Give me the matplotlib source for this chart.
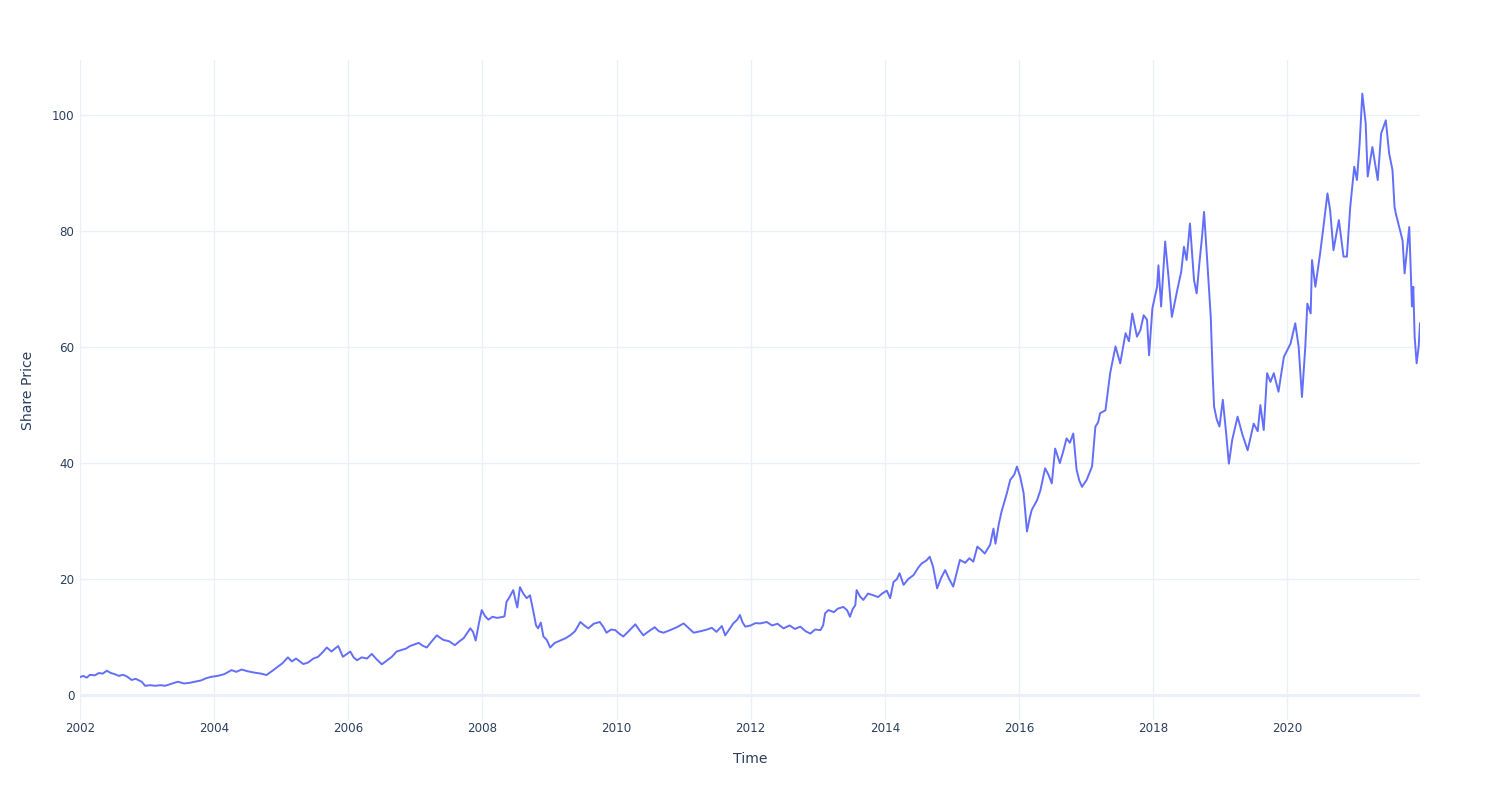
"""Share price over time, plotly-white look."""

import numpy as np
import pandas as pd
import matplotlib
matplotlib.use('Agg')
import matplotlib.pyplot as plt
import matplotlib.dates as mdates

# decimal year -> share price
years = [
    2002.00, 2002.05, 2002.10, 2002.15, 2002.22, 2002.28, 2002.34, 2002.40, 2002.46, 2002.52,
    2002.58, 2002.64, 2002.70, 2002.77, 2002.83, 2002.92, 2002.97, 2003.05, 2003.12, 2003.20,
    2003.27, 2003.35, 2003.46, 2003.55, 2003.63, 2003.71, 2003.80, 2003.88, 2003.96, 2004.05,
    2004.15, 2004.26, 2004.33, 2004.41, 2004.50, 2004.61, 2004.70, 2004.78, 2004.87, 2004.95,
    2005.02, 2005.10, 2005.16, 2005.22, 2005.33, 2005.40, 2005.48, 2005.55, 2005.62, 2005.68,
    2005.75, 2005.80, 2005.85, 2005.92, 2006.03, 2006.08, 2006.13, 2006.20, 2006.28, 2006.35,
    2006.42, 2006.50, 2006.58, 2006.65, 2006.72, 2006.80, 2006.86, 2006.92, 2007.00, 2007.05,
    2007.11, 2007.17, 2007.24, 2007.32, 2007.38, 2007.42, 2007.50, 2007.59, 2007.66, 2007.72,
    2007.78, 2007.82, 2007.86, 2007.90, 2007.95, 2007.99, 2008.04, 2008.09, 2008.15, 2008.22,
    2008.31, 2008.33, 2008.36, 2008.40, 2008.46, 2008.50, 2008.52, 2008.56, 2008.61, 2008.66,
    2008.71, 2008.76, 2008.80, 2008.83, 2008.87, 2008.91, 2008.96, 2009.01, 2009.08, 2009.16,
    2009.24, 2009.31, 2009.38, 2009.46, 2009.52, 2009.58, 2009.66, 2009.75, 2009.80, 2009.85,
    2009.92, 2009.98, 2010.04, 2010.10, 2010.18, 2010.28, 2010.34, 2010.40, 2010.48, 2010.57,
    2010.63, 2010.70, 2010.80, 2010.90, 2011.00, 2011.08, 2011.15, 2011.25, 2011.35, 2011.42,
    2011.49, 2011.57, 2011.62, 2011.68, 2011.74, 2011.80, 2011.84, 2011.88, 2011.92, 2012.00,
    2012.07, 2012.14, 2012.24, 2012.32, 2012.40, 2012.49, 2012.58, 2012.66, 2012.74, 2012.82,
    2012.89, 2012.96, 2013.04, 2013.08, 2013.11, 2013.16, 2013.24, 2013.30, 2013.38, 2013.44,
    2013.48, 2013.52, 2013.56, 2013.58, 2013.63, 2013.68, 2013.75, 2013.83, 2013.90, 2013.96,
    2014.03, 2014.08, 2014.13, 2014.18, 2014.22, 2014.28, 2014.35, 2014.43, 2014.50, 2014.55,
    2014.62, 2014.67, 2014.72, 2014.78, 2014.84, 2014.90, 2014.96, 2015.02, 2015.07, 2015.12,
    2015.20, 2015.26, 2015.32, 2015.38, 2015.44, 2015.49, 2015.57, 2015.62, 2015.65, 2015.70,
    2015.74, 2015.82, 2015.87, 2015.93, 2015.97, 2016.02, 2016.07, 2016.12, 2016.16, 2016.19,
    2016.27, 2016.32, 2016.39, 2016.44, 2016.49, 2016.54, 2016.61, 2016.66, 2016.71, 2016.76,
    2016.81, 2016.86, 2016.90, 2016.94, 2017.01, 2017.09, 2017.14, 2017.18, 2017.21, 2017.29,
    2017.36, 2017.44, 2017.51, 2017.59, 2017.64, 2017.69, 2017.76, 2017.81, 2017.86, 2017.91,
    2017.94, 2017.99, 2018.06, 2018.08, 2018.12, 2018.18, 2018.23, 2018.28, 2018.36, 2018.42,
    2018.46, 2018.50, 2018.55, 2018.61, 2018.65, 2018.69, 2018.73, 2018.76, 2018.81, 2018.86,
    2018.89, 2018.91, 2018.95, 2018.99, 2019.04, 2019.09, 2019.13, 2019.18, 2019.26, 2019.33,
    2019.41, 2019.50, 2019.56, 2019.60, 2019.65, 2019.70, 2019.75, 2019.80, 2019.87, 2019.95,
    2020.05, 2020.12, 2020.17, 2020.22, 2020.27, 2020.30, 2020.35, 2020.37, 2020.42, 2020.49,
    2020.54, 2020.60, 2020.64, 2020.69, 2020.77, 2020.84, 2020.89, 2020.94, 2021.00, 2021.04,
    2021.08, 2021.12, 2021.17, 2021.20, 2021.27, 2021.35, 2021.40, 2021.47, 2021.52, 2021.57,
    2021.60, 2021.62, 2021.67, 2021.72, 2021.75, 2021.82, 2021.86, 2021.88, 2021.90, 2021.93,
    2021.96, 2021.98,
]

price = [
    3.1, 3.3, 3.0, 3.5, 3.4, 3.8, 3.7, 4.2, 3.8, 3.6,
    3.3, 3.5, 3.2, 2.6, 2.8, 2.3, 1.6, 1.7, 1.6, 1.7,
    1.6, 1.9, 2.3, 2.0, 2.1, 2.3, 2.5, 2.9, 3.15, 3.3,
    3.6, 4.3, 4.0, 4.4, 4.1, 3.85, 3.7, 3.45, 4.2, 4.9,
    5.5, 6.5, 5.8, 6.3, 5.35, 5.6, 6.3, 6.6, 7.4, 8.2,
    7.5, 8.0, 8.45, 6.6, 7.5, 6.5, 6.0, 6.5, 6.3, 7.1,
    6.2, 5.3, 6.0, 6.6, 7.5, 7.8, 8.0, 8.45, 8.8, 9.0,
    8.5, 8.2, 9.2, 10.3, 9.8, 9.5, 9.3, 8.6, 9.3, 9.8,
    10.8, 11.5, 10.9, 9.4, 12.5, 14.65, 13.6, 13.0, 13.5, 13.3,
    13.5, 13.6, 16.1, 16.8, 18.1, 16.0, 15.1, 18.6, 17.5, 16.7,
    17.2, 14.4, 12.0, 11.5, 12.5, 10.1, 9.5, 8.2, 9.0, 9.4,
    9.8, 10.3, 11.0, 12.6, 12.0, 11.5, 12.3, 12.6, 11.8, 10.75,
    11.3, 11.2, 10.6, 10.1, 11.0, 12.2, 11.2, 10.3, 11.0, 11.7,
    11.0, 10.75, 11.2, 11.7, 12.35, 11.5, 10.75, 11.0, 11.3, 11.6,
    10.9, 11.9, 10.3, 11.3, 12.35, 13.0, 13.8, 12.5, 11.8, 12.0,
    12.4, 12.35, 12.6, 12.0, 12.3, 11.5, 12.0, 11.4, 11.8, 11.0,
    10.6, 11.3, 11.2, 12.0, 14.1, 14.65, 14.3, 14.9, 15.2, 14.6,
    13.5, 14.8, 15.5, 18.1, 17.0, 16.4, 17.5, 17.2, 16.9, 17.5,
    18.0, 16.7, 19.5, 20.0, 21.0, 19.0, 20.0, 20.7, 22.0, 22.7,
    23.2, 23.85, 22.1, 18.4, 20.2, 21.55, 20.0, 18.7, 21.0, 23.3,
    22.8, 23.6, 23.0, 25.6, 25.0, 24.4, 25.9, 28.7, 26.1, 29.5,
    31.6, 34.8, 37.1, 38.0, 39.4, 37.6, 34.8, 28.2, 30.5, 31.9,
    33.6, 35.3, 39.1, 38.0, 36.5, 42.5, 40.0, 42.0, 44.25, 43.5,
    45.1, 38.8, 37.0, 35.9, 37.1, 39.4, 46.3, 47.0, 48.6, 49.1,
    55.5, 60.1, 57.2, 62.4, 61.0, 65.8, 61.8, 62.9, 65.5, 64.7,
    58.6, 66.7, 70.4, 74.1, 67.0, 78.2, 72.1, 65.2, 69.8, 73.0,
    77.3, 75.0, 81.3, 71.6, 69.25, 74.4, 79.0, 83.3, 74.4, 65.2,
    54.9, 49.7, 47.5, 46.3, 50.9, 45.1, 39.9, 44.0, 48.0, 45.0,
    42.2, 46.8, 45.5, 50.0, 45.7, 55.5, 54.0, 55.5, 52.3, 58.3,
    60.6, 64.1, 60.1, 51.4, 60.1, 67.5, 65.8, 75.0, 70.4, 76.1,
    80.7, 86.5, 83.6, 76.7, 81.9, 75.6, 75.6, 84.2, 91.1, 88.8,
    95.1, 103.7, 98.6, 89.4, 94.5, 88.8, 96.8, 99.1, 93.4, 90.5,
    84.2, 83.0, 80.7, 78.4, 72.7, 80.7, 67.0, 70.4, 61.8, 57.2,
    60.1, 64.1,
]

tick_years = list(range(2002, 2022, 2))
y_ticks = [0, 20, 40, 60, 80, 100]

line_color = '#636efa'
grid_color = '#ebf0f8'
text_color = '#2a3f5f'

offset = (np.array(years) - 2002) * 365.25
dates = pd.Timestamp('2002-01-01') + pd.to_timedelta(offset, unit='D')

plt.rcParams['font.family'] = ['DejaVu Sans']

fig = plt.figure(figsize=(15, 8), dpi=100)
ax = fig.add_axes([80 / 1500, 80 / 800, 1340 / 1500, 660 / 800])

ax.plot(dates, price, color=line_color, linewidth=1.4, zorder=3)

ax.set_xlim(dates[0], dates[-1])
ax.set_ylim(-4.3, 109.5)

ax.set_xticks([pd.Timestamp(f'{y}-01-01') for y in tick_years])
ax.xaxis.set_major_formatter(mdates.DateFormatter('%Y'))
ax.set_yticks(y_ticks)

ax.grid(True, color=grid_color, linewidth=1.0, zorder=0)
ax.axhline(0, color=grid_color, linewidth=2.0, zorder=1)

for s in ax.spines.values():
    s.set_visible(False)
ax.tick_params(axis='both', length=0, labelsize=8.6, colors=text_color)
ax.tick_params(axis='x', pad=1.5)
ax.tick_params(axis='y', pad=4)

ax.set_xlabel('Time', fontsize=10.1, color=text_color, labelpad=12)
ax.set_ylabel('Share Price', fontsize=10.1, color=text_color, labelpad=12)

fig.savefig('out.png', dpi=100, facecolor='white')
plt.close(fig)
